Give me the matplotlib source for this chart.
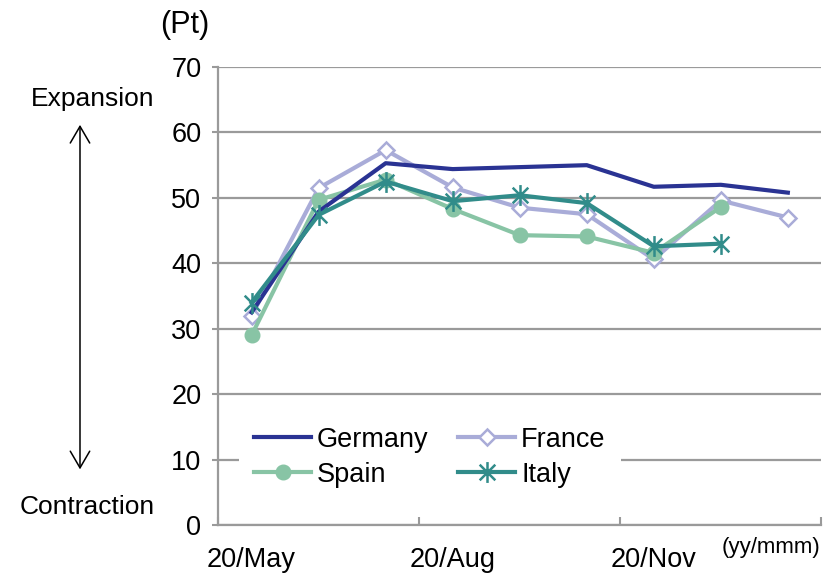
import matplotlib

matplotlib.use("Agg")
import matplotlib.pyplot as plt
import numpy as np
from matplotlib.path import Path

plt.rcParams["font.family"] = ["Liberation Sans", "DejaVu Sans"]

# Composite PMI, monthly
months = ["20/May", "20/Jun", "20/Jul", "20/Aug", "20/Sep",
          "20/Oct", "20/Nov", "20/Dec", "21/Jan"]
germany = [32.5, 47.9, 55.3, 54.4, 54.7, 55.0, 51.7, 52.0, 50.8]
france = [32.0, 51.5, 57.3, 51.6, 48.5, 47.5, 40.6, 49.6, 47.0]
spain = [29.0, 49.7, 52.8, 48.3, 44.3, 44.1, 41.6, 48.6]
italy = [34.0, 47.4, 52.5, 49.5, 50.4, 49.2, 42.6, 43.0]

C_DE = "#2a3393"
C_FR = "#a9acd8"
C_ES = "#88c4a5"
C_IT = "#318c8a"
GRID = "#9a9a9a"
FS = 19.5

# asterisk marker: vertical stroke plus an X
star = Path(
    [(0, -1), (0, 1), (-0.75, -0.75), (0.75, 0.75), (-0.75, 0.75), (0.75, -0.75)],
    [Path.MOVETO, Path.LINETO] * 3,
)

fig = plt.figure(figsize=(8.23, 5.73), dpi=100)
ax = fig.add_axes([0.265, 0.0838, 0.733, 0.7992])

x_de = np.arange(len(germany))
x_fr = np.arange(len(france))
x_es = np.arange(len(spain))
x_it = np.arange(len(italy))

l_de, = ax.plot(x_de, germany, color=C_DE, lw=3, label="Germany", zorder=4)
l_fr, = ax.plot(x_fr, france, color=C_FR, lw=3, marker="D", ms=8, mfc="white",
                mec=C_FR, mew=1.8, label="France", zorder=3)
l_es, = ax.plot(x_es, spain, color=C_ES, lw=3, marker="o", ms=10.5, mfc=C_ES,
                mec=C_ES, label="Spain", zorder=3)
l_it, = ax.plot(x_it, italy, color=C_IT, lw=3, marker=star, ms=15, mfc="none",
                mec=C_IT, mew=1.8, label="Italy", zorder=5)

ax.set_xlim(-0.5, len(months) - 0.5)
ax.set_ylim(0, 70)
ax.set_yticks(np.arange(0, 71, 10))
ax.yaxis.grid(True, color=GRID, lw=1.6)
ax.set_axisbelow(True)

# category boundaries get the tick marks, every third month gets a label
ax.set_xticks(np.arange(-0.5, len(months), 3))
ax.set_xticklabels([])
ax.set_xticks(np.arange(0, len(months), 3), minor=True)
ax.set_xticklabels(months[::3], minor=True)
ax.tick_params(axis="x", which="major", direction="in", length=6,
               color=GRID, width=1.5)
ax.tick_params(axis="x", which="minor", length=0, pad=16, labelsize=FS)
ax.tick_params(axis="y", direction="out", length=4, color=GRID, width=1.5,
               labelsize=FS, pad=8)

for side in ("top", "right"):
    ax.spines[side].set_visible(False)
for side in ("left", "bottom"):
    ax.spines[side].set_color(GRID)
    ax.spines[side].set_linewidth(1.6)

# two rows: Germany / France, then Spain / Italy
leg = ax.legend([l_de, l_es, l_fr, l_it], ["Germany", "Spain", "France", "Italy"],
                ncol=2, loc="center left", bbox_to_anchor=(0.035, 0.1475),
                fontsize=FS, frameon=True, fancybox=False, framealpha=1,
                edgecolor="none", handlelength=2.1, handletextpad=0.22,
                columnspacing=1.1, labelspacing=0.33, borderpad=0.55,
                borderaxespad=0)
leg.set_zorder(6)

fig.text(0.224, 0.956, "(Pt)", fontsize=22, ha="center", va="center")
fig.text(0.112, 0.827, "Expansion", fontsize=FS - 0.5, ha="center", va="center")
fig.text(0.106, 0.115, "Contraction", fontsize=FS - 0.5, ha="center", va="center")
fig.text(0.997, 0.045, "(yy/mmm)", fontsize=16, ha="right", va="center")

fig.add_artist(matplotlib.patches.FancyArrowPatch(
    (0.0972, 0.787), (0.0972, 0.176), transform=fig.transFigure,
    arrowstyle="<->,head_length=12,head_width=7", color="black", lw=1.1,
    mutation_scale=1))

fig.savefig("out.png", dpi=100)
